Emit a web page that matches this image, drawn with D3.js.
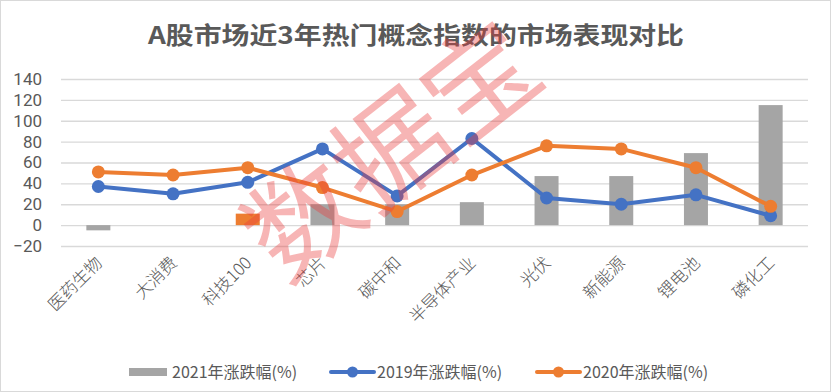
<!DOCTYPE html>
<html>
  <head>
    <meta charset="utf-8">
    <title>A股市场近3年热门概念指数</title>
    <script src="https://cdn.jsdelivr.net/npm/d3@7"></script>
    <style>
      body { margin: 0; background: #fff; }
      text { font-family: "Noto Sans CJK SC", "Noto Sans", sans-serif; }
    </style>
  </head>
  <body>
    <svg width="831" height="392" id="mainsvg"></svg>
    <script>
      // 数据
      const categories = ['医药生物', '大消费', '科技100', '芯片', '碳中和', '半导体产业', '光伏', '新能源', '锂电池', '磷化工'];
      const val2021 = [-5, 0, 11, 20, 20, 22, 47, 47, 69, 115];
      const val2019 = [37, 30, 41, 73, 28, 83, 26, 20, 29, 9];
      const val2020 = [51, 48, 55, 36, 13, 48, 76, 73, 55, 18];
      const yTicks = [-20, 0, 20, 40, 60, 80, 100, 120, 140];
      const seriesNames = ['2021年涨跌幅(%)', '2019年涨跌幅(%)', '2020年涨跌幅(%)'];

      const svg = d3.select('#mainsvg');
      const width = +svg.attr('width');
      const height = +svg.attr('height');
      const margin = {top: 79, right: 23, bottom: 146, left: 61};

      const gray = '#A5A5A5', blue = '#4472C4', orange = '#ED7D31';

      svg.append('rect').attr('x', 0.5).attr('y', 0.5)
        .attr('width', width - 1).attr('height', height - 1)
        .attr('fill', '#fff').attr('stroke', '#D9D9D9');

      // 标题
      svg.append('text')
        .attr('x', 148).attr('y', 44)
        .attr('textLength', 536).attr('lengthAdjust', 'spacingAndGlyphs')
        .attr('font-size', 24).attr('font-weight', 'bold')
        .attr('fill', '#595959')
        .text('A股市场近3年热门概念指数的市场表现对比');

      const x = d3.scaleBand().domain(categories).range([margin.left, width - margin.right]);
      const y = d3.scaleLinear().domain([-20, 140]).range([height - margin.bottom, margin.top]);

      // 网格线
      const yAxis = d3.axisLeft(y).tickValues(yTicks).tickSize(-(width - margin.right - margin.left)).tickPadding(19);
      const ga = svg.append('g').attr('transform', `translate(${margin.left},0)`).call(yAxis);
      ga.select('.domain').remove();
      ga.selectAll('line').attr('stroke', '#D9D9D9').attr('stroke-width', 1.3);
      ga.selectAll('text').attr('font-size', 17).attr('fill', '#595959')
        .style('font-family', 'Roboto, "Noto Sans", sans-serif');

      // 2021 柱子
      const bw = 24;
      svg.append('g').selectAll('rect').data(val2021).join('rect')
        .attr('x', (d, i) => x(categories[i]) + x.bandwidth() / 2 - bw / 2)
        .attr('y', d => y(Math.max(0, d)))
        .attr('width', bw)
        .attr('height', d => Math.abs(y(d) - y(0)))
        .attr('fill', (d, i) => categories[i] === '科技100' ? orange : gray);

      const cx = (d, i) => x(categories[i]) + x.bandwidth() / 2;
      const drawLine = (vals, color) => {
        const line = d3.line().x(cx).y(d => y(d));
        svg.append('path').datum(vals)
          .attr('d', line).attr('fill', 'none')
          .attr('stroke', color).attr('stroke-width', 4)
          .attr('stroke-linejoin', 'round');
        svg.append('g').selectAll('circle').data(vals).join('circle')
          .attr('cx', cx).attr('cy', d => y(d)).attr('r', 6.5)
          .attr('fill', color);
      };
      drawLine(val2019, blue);
      drawLine(val2020, orange);

      // x轴标签
      svg.append('g').selectAll('text').data(categories).join('text')
        .attr('transform', d => `translate(${x(d) + x.bandwidth() / 2 + 5},${264}) rotate(-45)`)
        .attr('text-anchor', 'end')
        .attr('font-size', 17)
        .attr('font-weight', 300)
        .attr('fill', '#595959')
        .text(d => d);

      // 图例
      const lg = svg.append('g');
      const legendX = [129, 331, 537];
      const ly = 372;
      lg.append('rect').attr('x', legendX[0]).attr('y', ly - 4).attr('width', 38).attr('height', 8).attr('fill', gray);
      [[1, blue], [2, orange]].forEach(([k, c]) => {
        lg.append('line').attr('x1', legendX[k]).attr('x2', legendX[k] + 43)
          .attr('y1', ly).attr('y2', ly).attr('stroke', c).attr('stroke-width', 4).attr('stroke-linecap', 'round');
        lg.append('circle').attr('cx', legendX[k] + 21.5).attr('cy', ly).attr('r', 5.5).attr('fill', c);
      });
      lg.selectAll('text.lg').data(seriesNames).join('text')
        .attr('class', 'lg')
        .attr('x', (d, i) => legendX[i] + (i === 0 ? 43 : 46))
        .attr('y', ly + 6)
        .attr('font-size', 16)
        .attr('fill', '#595959')
        .text(d => d);

      // 水印
      svg.append('text')
        .attr('transform', 'translate(398,158) rotate(-38)')
        .attr('text-anchor', 'middle')
        .attr('dominant-baseline', 'middle')
        .attr('font-size', 112)
        .attr('font-weight', 400)
        .attr('fill', 'rgb(235,60,60)')
        .attr('fill-opacity', 0.38)
        .text('数据宝');
    </script>
  </body>
</html>
